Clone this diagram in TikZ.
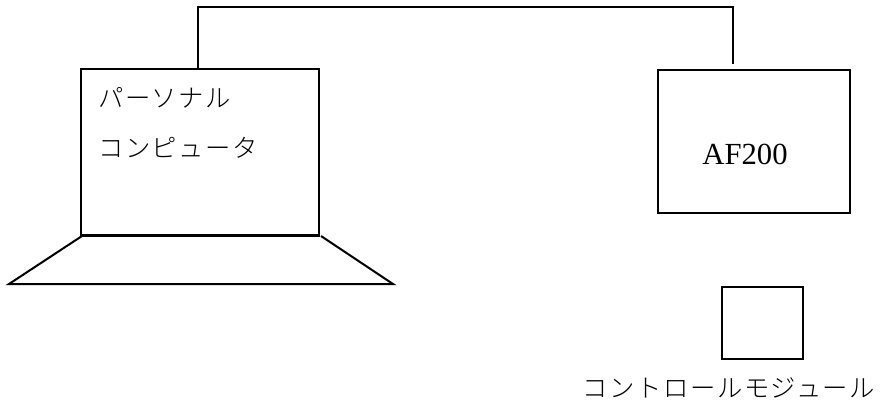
\documentclass[tikz,border=0pt]{standalone}
\usepackage{fontspec}
\newfontfamily\jp[LetterSpace=6]{Noto Sans CJK JP Light}
\newfontfamily\lat{Liberation Serif}
\begin{document}
\begin{tikzpicture}[x=0.75pt,y=-0.75pt,
  box/.style={draw,line width=1.5pt,inner sep=0pt,anchor=north west},
  wire/.style={line width=1.5pt},
  jtext/.style={font=\jp\fontsize{19}{22}\selectfont,inner sep=0pt},
  ltext/.style={font=\lat\fontsize{23}{26}\selectfont,inner sep=0pt}]
\useasboundingbox (0,0) rectangle (886,405);
% laptop screen
\node[box,minimum width=238*0.75pt,minimum height=166*0.75pt] (pc) at (80,68) {};
\node[jtext,anchor=west] (pc1) at (98,98) {パーソナル};
\node[jtext,anchor=west] (pc2) at (98,148) {コンピュータ};
% laptop base
\coordinate (b1) at (82,236);
\coordinate (b2) at (321,236);
\coordinate (b3) at (393,284);
\coordinate (b4) at (9,284);
\draw[wire] (b1) -- (b4) -- (b3) -- (b2);
\draw[wire] (pc.south west) -- (pc.south east);
% AF200
\node[box,minimum width=192*0.75pt,minimum height=143*0.75pt] (af) at (657,69) {};
\node[ltext] (aft) at (745,154) {AF200};
% cable
\coordinate (c1) at (198,7);
\coordinate (c2) at (733,7);
\coordinate (c3) at (733,64);
\draw[wire] (pc.north west -| c1) -- (c1) -- (c2) -- (c3);
% control module
\node[box,minimum width=81*0.75pt,minimum height=72*0.75pt] (cm) at (721,286) {};
\node[jtext] (cmt) at (729,388) {コントロールモジュール};
\end{tikzpicture}
\end{document}
